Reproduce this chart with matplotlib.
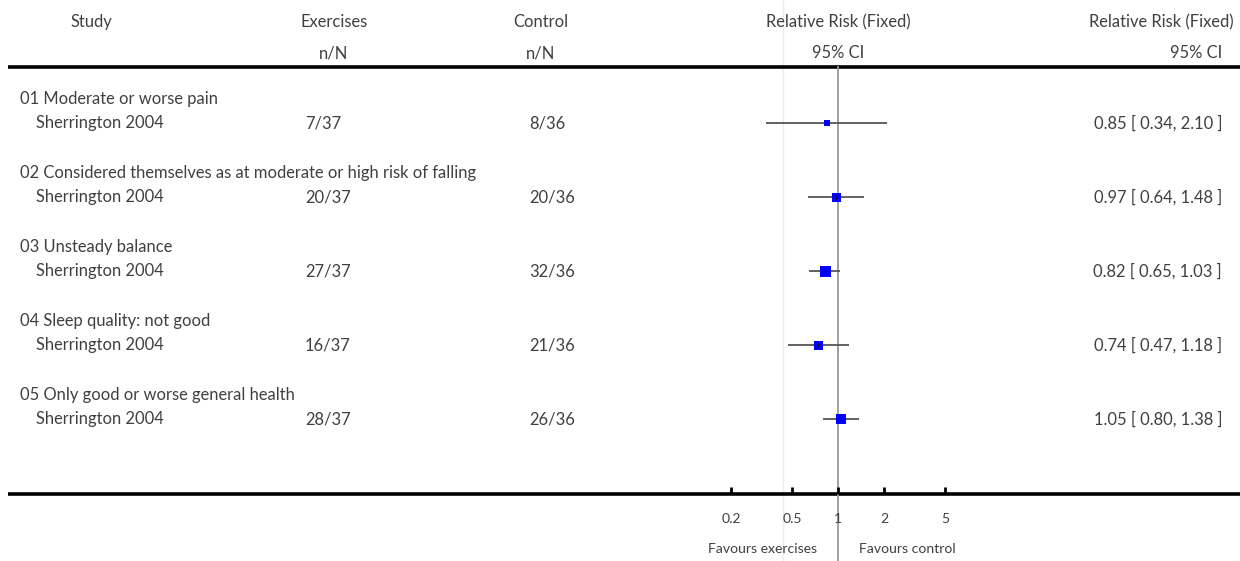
import numpy as np
import matplotlib
matplotlib.use("Agg")
import matplotlib.pyplot as plt

plt.rcParams['font.family'] = ['Lato', 'DejaVu Sans']

# ---- data ----
outcomes = [
    "01 Moderate or worse pain",
    "02 Considered themselves as at moderate or high risk of falling",
    "03 Unsteady balance",
    "04 Sleep quality: not good",
    "05 Only good or worse general health",
]
studies = ["Sherrington 2004"] * 5
exercise_n = ["7/37", "20/37", "27/37", "16/37", "28/37"]
control_n = ["8/36", "20/36", "32/36", "21/36", "26/36"]
rr = [0.85, 0.97, 0.82, 0.74, 1.05]
ci_low = [0.34, 0.64, 0.65, 0.47, 0.80]
ci_high = [2.10, 1.48, 1.03, 1.18, 1.38]
box_px = [6, 9, 11, 9, 10]          # box size (weight), in pixels
tick_values = [0.2, 0.5, 1, 2, 5]
tick_labels = ["0.2", "0.5", "1", "2", "5"]

# ---- layout (pixels) ----
W, H, DPI = 1240, 561, 100
TXT = "#404040"
FS = 11.9
FS_SMALL = 10.1
top_rule, bottom_rule = 67, 494
row0, pitch = 123, 74
x_one, px_per_ln = 838, 66.4

fig = plt.figure(figsize=(W / DPI, H / DPI), dpi=DPI)

# full-figure axes for the table text and rules
ax = fig.add_axes([0, 0, 1, 1])
ax.set_xlim(0, W)
ax.set_ylim(H, 0)
ax.axis("off")

kw = dict(fontsize=FS, color=TXT, fontweight="normal", va="center")

# faint guide line
ax.plot([783, 783], [0, H], color="#ececec", lw=1, zorder=0)

# header
ax.text(91, 22, "Study", ha="center", **kw)
ax.text(334, 22, "Exercises", ha="center", **kw)
ax.text(334, 53, "n/N", ha="center", **kw)
ax.text(541, 22, "Control", ha="center", **kw)
ax.text(541, 53, "n/N", ha="center", **kw)
ax.text(x_one, 22, "Relative Risk (Fixed)", ha="center", **kw)
ax.text(x_one, 53, "95% CI", ha="center", **kw)
ax.text(1234, 22, "Relative Risk (Fixed)", ha="right", **kw)
ax.text(1222, 53, "95% CI", ha="right", **kw)

ax.plot([8, W], [top_rule, top_rule], color="black", lw=2.6, solid_capstyle="butt")
ax.plot([8, W], [bottom_rule, bottom_rule], color="black", lw=2.6, solid_capstyle="butt")

for i in range(len(outcomes)):
    y = row0 + pitch * i
    ax.text(20, y - 24, outcomes[i], ha="left", **kw)
    ax.text(36, y, studies[i], ha="left", **kw)
    ax.text(305, y, exercise_n[i], ha="left", **kw)
    ax.text(529, y, control_n[i], ha="left", **kw)
    ax.text(1222, y, f"{rr[i]:.2f} [ {ci_low[i]:.2f}, {ci_high[i]:.2f} ]",
            ha="right", **kw)

ax.text(x_one - 21, 549, "Favours exercises", ha="right", fontsize=FS_SMALL,
        color=TXT, va="center")
ax.text(x_one + 21, 549, "Favours control", ha="left", fontsize=FS_SMALL,
        color=TXT, va="center")

# forest plot axes (log scale), placed so that RR = 1 sits under its header
xlo, xhi = 0.1, 10
left_px = x_one + px_per_ln * np.log(xlo)
right_px = x_one + px_per_ln * np.log(xhi)
axf = fig.add_axes([left_px / W, (H - bottom_rule) / H,
                    (right_px - left_px) / W, (bottom_rule - top_rule) / H])
axf.set_xscale("log")
axf.set_xlim(xlo, xhi)
axf.set_ylim((bottom_rule - row0) / pitch, (top_rule - row0) / pitch)
axf.patch.set_alpha(0)
for s in axf.spines.values():
    s.set_visible(False)
axf.set_yticks([])
axf.set_xticks(tick_values)
axf.set_xticklabels(tick_labels)
axf.xaxis.set_minor_locator(matplotlib.ticker.NullLocator())
axf.tick_params(axis="x", direction="in", length=5, width=2, pad=14,
                labelsize=FS_SMALL, labelcolor=TXT, color="black")

# line of no effect, running down through the footer
axf.axvline(1, ymin=-(H - bottom_rule) / (bottom_rule - top_rule), ymax=1,
            color="#9a9a9a", lw=1.3, clip_on=False, zorder=1)

rows = np.arange(len(rr))
axf.hlines(rows, ci_low, ci_high, color="#555555", lw=1.3, zorder=2)
for i in rows:
    axf.plot(rr[i], i, marker="s", ms=box_px[i] * 72 / DPI, mfc="#0000ff",
             mec="#0000ff", mew=0, ls="none", zorder=3)
    axf.plot(rr[i], i, marker="|", ms=3, mec="#000040", mew=1, ls="none", zorder=4)

fig.savefig("out.png", dpi=DPI)
